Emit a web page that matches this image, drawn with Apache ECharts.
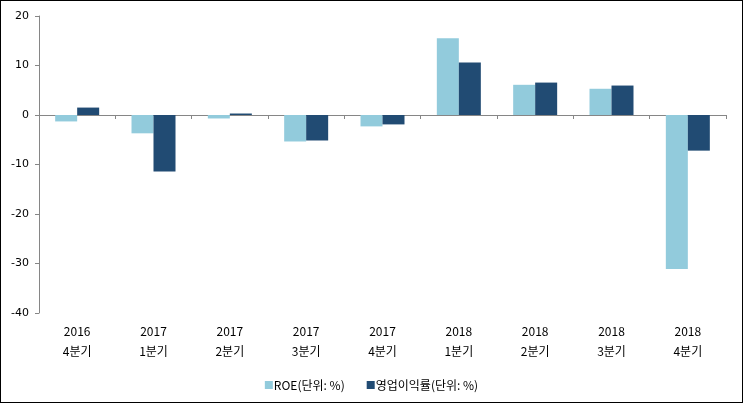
<!DOCTYPE html>
<html>
<head>
<meta charset="utf-8">
<script src="https://cdn.jsdelivr.net/npm/echarts@6/dist/echarts.min.js"></script>
<style>
html,body{margin:0;padding:0;background:#fff;}
#c{width:741px;height:401px;border:1px solid #000;}
</style>
</head>
<body>
<div id="c"></div>
<script>
const categories = ['2016\n4분기','2017\n1분기','2017\n2분기','2017\n3분기','2017\n4분기','2018\n1분기','2018\n2분기','2018\n3분기','2018\n4분기'];
const roe = [-1.3, -3.7, -0.7, -5.35, -2.3, 15.5, 6.1, 5.3, -31.1];
const opm = [1.5, -11.4, 0.3, -5.15, -1.9, 10.6, 6.55, 5.95, -7.2];
const seriesNames = ['ROE(단위: %)', '영업이익률(단위: %)'];

const chart = echarts.init(document.getElementById('c'));
chart.setOption({
  animation: false,
  textStyle: {fontFamily: 'Noto Sans CJK KR'},
  grid: {left: 38, right: 16, top: 15, bottom: 89},
  legend: {
    data: seriesNames,
    top: 373, left: 'center',
    itemWidth: 8, itemHeight: 8, itemGap: 22,
    icon: 'rect',
    textStyle: {fontSize: 12, color: '#000', fontFamily: 'Noto Sans CJK KR', padding: [0,0,0,-4]}
  },
  xAxis: [{
    type: 'category', data: categories, position: 'bottom',
    axisLine: {onZero: true, lineStyle: {color: '#868686', width: 1}},
    axisTick: {show: true, length: 4, lineStyle: {color: '#868686'}},
    axisLabel: {show: false}
  }, {
    type: 'category', data: categories, position: 'bottom',
    axisLine: {show: false, onZero: false},
    axisTick: {show: false},
    axisLabel: {show: true, margin: 8, fontSize: 12, lineHeight: 20, color: '#000', fontFamily: 'Noto Sans CJK KR'}
  }],
  yAxis: {
    type: 'value', min: -40, max: 20, interval: 10,
    axisLine: {show: true, lineStyle: {color: '#868686'}},
    axisTick: {show: true, length: 4, lineStyle: {color: '#868686'}},
    splitLine: {show: false},
    axisLabel: {fontSize: 11, color: '#000', margin: 10, fontFamily: 'DejaVu Sans'}
  },
  series: [{
    name: seriesNames[0], type: 'bar', data: roe, xAxisIndex: 0,
    barWidth: 22, barGap: '0%', itemStyle: {color: '#92CBDC'}
  }, {
    name: seriesNames[1], type: 'bar', data: opm, xAxisIndex: 0,
    barWidth: 22, barGap: '0%', itemStyle: {color: '#214B73'}
  }]
});
</script>
</body>
</html>
